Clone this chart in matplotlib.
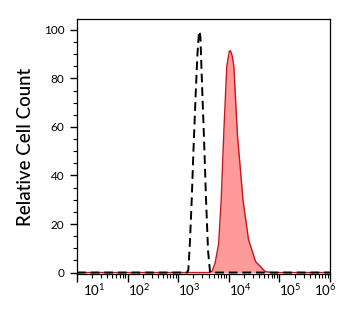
import numpy as np
import matplotlib.pyplot as plt
from matplotlib.ticker import FixedLocator, MultipleLocator, NullFormatter
from matplotlib.transforms import ScaledTranslation

plt.rcParams['font.family'] = ['Lato', 'DejaVu Sans']
plt.rcParams['mathtext.fontset'] = 'custom'
plt.rcParams['mathtext.rm'] = 'Lato'
plt.rcParams['mathtext.it'] = 'Lato'

# isotype control (dashed)
iso_x = [10, 1200, 1500, 1585, 1700, 1850, 2000, 2200, 2400, 2550, 2650, 2750,
         2950, 3240, 3550, 3890, 4270, 1e6]
iso_y = [0, 0, 0, 1, 12, 30, 50, 72, 90, 98, 99.5, 97,
         78, 55, 30, 9, 0, 0]

# stained sample (red filled)
red_x = [10, 3900, 4680, 5370, 6310, 7080, 7940, 9120, 10200, 10700, 11200,
         11750, 12590, 14790, 19050, 24550, 33900, 52500, 70800, 1e6]
red_y = [0, 0, 0.5, 4, 12, 30, 57, 85, 91, 91.5, 90.5,
         89, 85, 57, 30, 13.5, 4.5, 0.4, 0, 0]

xticks = [1e1, 1e2, 1e3, 1e4, 1e5, 1e6]
xlabels = [r'$10^{1}$', r'$10^{2}$', r'$10^{3}$', r'$10^{4}$', r'$10^{5}$', r'$10^{6}$']
yticks = [0, 20, 40, 60, 80, 100]

fig = plt.figure(figsize=(3.54, 3.13), dpi=100)
ax = fig.add_axes([77 / 354, 1 - 274 / 313, 253 / 354, 255 / 313])

ax.fill_between(red_x, red_y, 0, color='#ff9a9a', lw=0)
ax.plot(red_x, red_y, color='#c8161b', lw=1.0)
ax.plot(iso_x, iso_y, color='black', lw=1.4, ls=(0, (4.5, 2.5)))

ax.set_xscale('log')
ax.set_xlim(10, 1e6)
ax.set_ylim(-0.6, 104.5)

ax.xaxis.set_major_locator(FixedLocator(xticks))
ax.set_xticklabels(xlabels, fontsize=9.5, ha='left')
ax.xaxis.set_minor_formatter(NullFormatter())
ax.tick_params(axis='x', which='major', length=6, width=1, pad=0)
ax.tick_params(axis='x', which='minor', length=3, width=0.8)

offsets = [6, 0, 0, 0, 0, -16]
for lab, dx in zip(ax.get_xticklabels(), offsets):
    lab.set_transform(lab.get_transform() + ScaledTranslation(dx / 100, 0, fig.dpi_scale_trans))

ax.set_yticks(yticks)
ax.yaxis.set_minor_locator(MultipleLocator(5))
ax.tick_params(axis='y', which='major', length=5, width=1, pad=4, labelsize=8.5)
ax.tick_params(axis='y', which='minor', length=3, width=0.8)

for s in ax.spines.values():
    s.set_linewidth(0.9)

ax.set_ylabel('Relative Cell Count', fontsize=13.5, fontweight='medium', labelpad=7)

fig.savefig('out.png', dpi=100)
